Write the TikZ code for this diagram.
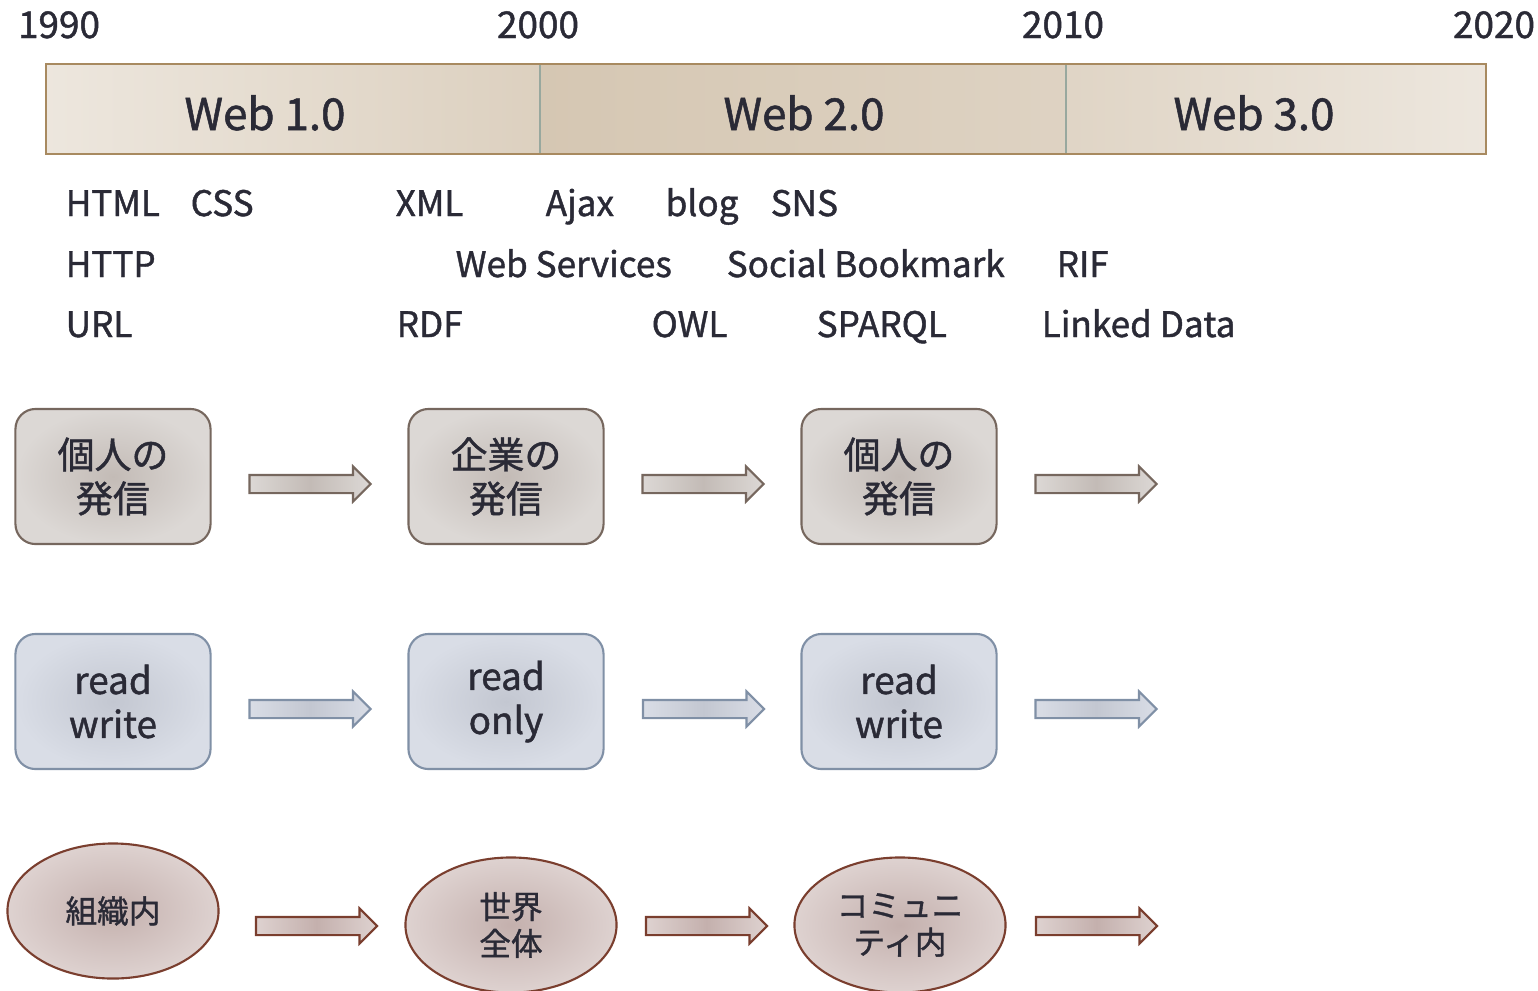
\documentclass[tikz,border=0pt]{standalone}
\usepackage{fontspec}
\setmainfont{Noto Sans CJK JP}[FakeBold=1.2]
\usetikzlibrary{shapes.geometric,shapes.arrows}

\definecolor{txt}{HTML}{2A2A36}
\definecolor{barline}{HTML}{A88A60}
\definecolor{barsep}{HTML}{98A89E}
\definecolor{gfill}{HTML}{DCD8D5}
\definecolor{gmid}{HTML}{C3BBB6}
\definecolor{gline}{HTML}{76675E}
\definecolor{bfill}{HTML}{D9DDE6}
\definecolor{bmid}{HTML}{C3C7D1}
\definecolor{bline}{HTML}{8090A6}
\definecolor{rfill}{HTML}{DED2D0}
\definecolor{rmid}{HTML}{C4B0AD}
\definecolor{rline}{HTML}{7A3E2E}

\begin{document}
\begin{tikzpicture}[x=0.01cm,y=-0.01cm,
	year/.style={text=txt, anchor=base, inner sep=0pt, font=\fontsize{10.5}{12}\selectfont},
	era/.style={text=txt, anchor=base, inner sep=0pt, font=\fontsize{12.5}{15}\selectfont},
	tech/.style={text=txt, anchor=base west, inner sep=0pt, font=\fontsize{10}{12}\selectfont},
	card/.style={rounded corners=0.2cm, minimum width=1.95cm, minimum height=1.35cm,
		line width=0.6pt, align=center, text=txt, font=\fontsize{10.5}{12.5}\selectfont},
	gcard/.style={card, draw=gline, inner color=gmid, outer color=gfill},
	bcard/.style={card, draw=bline, inner color=bmid, outer color=bfill},
	oval/.style={ellipse, minimum width=2.11cm, minimum height=1.35cm, inner sep=0pt,
		line width=0.6pt, draw=rline, inner color=rmid, outer color=rfill,
		align=center, text=txt, font=\fontsize{9}{10.5}\selectfont},
	flow/.style={single arrow, inner xsep=0pt, inner ysep=0.08cm, minimum height=1.21cm,
		single arrow head extend=0.085cm, single arrow head indent=0pt, line width=0.6pt},
	gflow/.style={flow, draw=gline, left color=gfill, right color=gfill, middle color=gmid},
	bflow/.style={flow, draw=bline, left color=bfill, right color=bfill, middle color=bmid},
	rflow/.style={flow, draw=rline, left color=rfill, right color=rfill, middle color=rmid}]
	\useasboundingbox (0,0) rectangle (1538,990);
	
	% years
	\node[year] (y1990) at (59,38) {1990};
	\node[year] (y2000) at (538,38) {2000};
	\node[year] (y2010) at (1063,38) {2010};
	\node[year] (y2020) at (1494,38) {2020};
	
	% time bar
	\shade[left color=white!30!barline!30, right color=barline!40] (46,64) rectangle (540,154);
	\shade[left color=barline!48, right color=barline!38] (540,64) rectangle (1066,154);
	\shade[left color=barline!36, right color=white!30!barline!30] (1066,64) rectangle (1486,154);
	\draw[barsep, line width=0.6pt] (540,64) -- (540,154) (1066,64) -- (1066,154);
	\draw[barline, line width=0.8pt] (46,64) rectangle (1486,154);
	\node[era] (web1) at (265,130) {Web 1.0};
	\node[era] (web2) at (804,130) {Web 2.0};
	\node[era] (web3) at (1254,130) {Web 3.0};
	
	% technologies
	\foreach \x/\y/\t [count=\i] in {65/216/HTML, 190/216/CSS, 395/216/XML, 545/216/Ajax,
		665/216/blog, 770/216/SNS, 65/277/HTTP, 455/277/Web Services,
		726/277/Social Bookmark, 1056/277/RIF, 65/337/URL, 396/337/RDF,
		651/337/OWL, 816/337/SPARQL, 1041/337/Linked Data}
	\node[tech] (t\i) at (\x,\y) {\t};
	
	% who publishes
	\node[gcard] (pub1) at (113,476.5) {個人の\\発信};
	\node[gcard] (pub2) at (506,476.5) {企業の\\発信};
	\node[gcard] (pub3) at (899,476.5) {個人の\\発信};
	\foreach \x [count=\i] in {305.5,698.5,1091.5}
	\node[gflow] (pa\i) at (\x,484) {};
	
	% read / write
	\node[bcard] (rw1) at (113,701.5) {read\\write};
	\node[bcard] (rw2) at (506,701.5) {read\\only};
	\node[bcard] (rw3) at (899,701.5) {read\\write};
	\foreach \x [count=\i] in {305.5,699,1091.5}
	\node[bflow] (ra\i) at (\x,709) {};
	
	% scope
	\node[oval] (sc1) at (113,911) {組織内};
	\node[oval] (sc2) at (511,925) {世界\\全体};
	\node[oval] (sc3) at (900,925) {コミュニ\\ティ内};
	\foreach \x [count=\i] in {312,702,1092}
	\node[rflow] (sa\i) at (\x,926) {};
\end{tikzpicture}
\end{document}
